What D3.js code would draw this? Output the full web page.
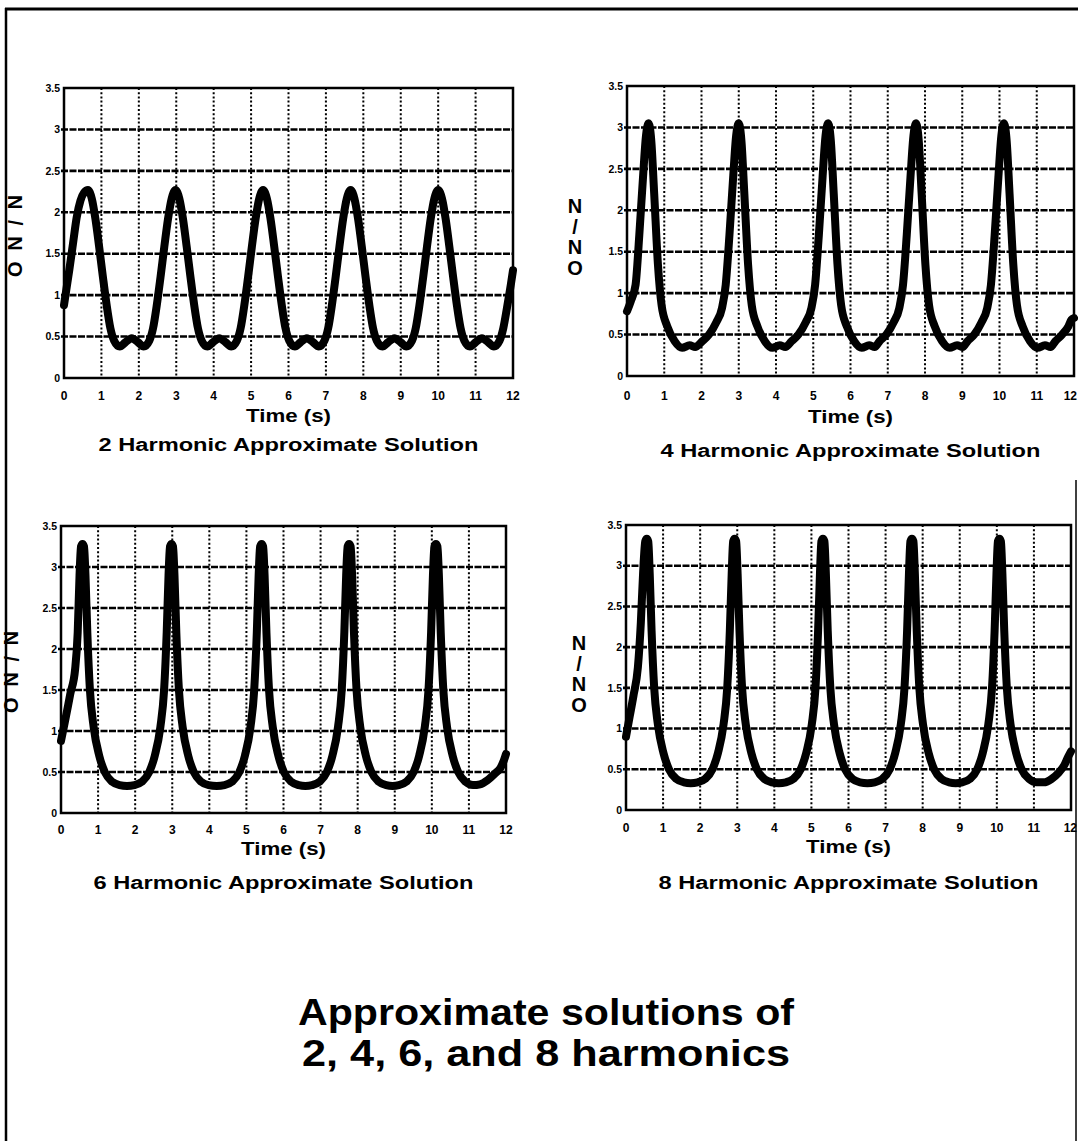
<!DOCTYPE html>
<html>
<head>
<meta charset="utf-8">
<script src="https://cdn.jsdelivr.net/npm/d3@7"></script>
<style>
  body { margin: 0; background: #fff; }
  svg { display: block; }
  text { font-family: "Liberation Sans", Arial, sans-serif; fill: #000; }
</style>
</head>
<body>
<div class="svgcontainer"></div>
<script>
// tick labels
const xTicks = [0, 1, 2, 3, 4, 5, 6, 7, 8, 9, 10, 11, 12];
const yTicks = [0, 0.5, 1, 1.5, 2, 2.5, 3, 3.5];

const subtitles = [
  '2 Harmonic Approximate Solution',
  '4 Harmonic Approximate Solution',
  '6 Harmonic Approximate Solution',
  '8 Harmonic Approximate Solution',
];
const titleLines = ['Approximate solutions of', '2, 4, 6, and 8 harmonics'];

// 2 harmonics
const h2Time = [0, 0.04, 0.14, 0.24, 0.34, 0.44, 0.54, 0.64, 0.74, 0.84, 0.94, 1.04, 1.14, 1.24, 1.34, 1.49, 1.64, 1.81, 1.98, 2.13, 2.28, 2.38, 2.48, 2.58, 2.68, 2.78, 2.88, 2.98,
  3.08, 3.18, 3.28, 3.38, 3.48, 3.58, 3.68, 3.83, 3.98, 4.15, 4.32, 4.47, 4.62, 4.72, 4.82, 4.92, 5.02, 5.12, 5.22, 5.32,
  5.42, 5.52, 5.62, 5.72, 5.82, 5.92, 6.02, 6.17, 6.32, 6.49, 6.66, 6.81, 6.96, 7.06, 7.16, 7.26, 7.36, 7.46, 7.56, 7.66,
  7.76, 7.86, 7.96, 8.06, 8.16, 8.26, 8.36, 8.51, 8.66, 8.83, 9.0, 9.15, 9.3, 9.4, 9.5, 9.6, 9.7, 9.8, 9.9, 10.0,
  10.1, 10.2, 10.3, 10.4, 10.5, 10.6, 10.7, 10.85, 11.0, 11.17, 11.34, 11.49, 11.64, 11.74, 11.84, 11.94, 12.0];
const h2Value = [0.88, 1.0, 1.3, 1.62, 1.94, 2.14, 2.24, 2.27, 2.17, 1.92, 1.58, 1.22, 0.88, 0.6, 0.45, 0.38, 0.43, 0.48, 0.43, 0.38, 0.45, 0.6, 0.88, 1.22, 1.58, 1.92, 2.17, 2.27,
  2.17, 1.92, 1.58, 1.22, 0.88, 0.6, 0.45, 0.38, 0.43, 0.48, 0.43, 0.38, 0.45, 0.6, 0.88, 1.22, 1.58, 1.92, 2.17, 2.27,
  2.17, 1.92, 1.58, 1.22, 0.88, 0.6, 0.45, 0.38, 0.43, 0.48, 0.43, 0.38, 0.45, 0.6, 0.88, 1.22, 1.58, 1.92, 2.17, 2.27,
  2.17, 1.92, 1.58, 1.22, 0.88, 0.6, 0.45, 0.38, 0.43, 0.48, 0.43, 0.38, 0.45, 0.6, 0.88, 1.22, 1.58, 1.92, 2.17, 2.27,
  2.17, 1.92, 1.58, 1.22, 0.88, 0.6, 0.45, 0.38, 0.43, 0.48, 0.43, 0.38, 0.45, 0.6, 0.85, 1.12, 1.3];

// 4 harmonics
const h4Time = [0, 0.1, 0.23, 0.33, 0.43, 0.51, 0.58, 0.65, 0.73, 0.83, 0.93, 1.08, 1.28, 1.48, 1.68, 1.83, 2.02, 2.2, 2.4, 2.55, 2.65, 2.75, 2.85, 2.93, 3.0,
  3.07, 3.15, 3.25, 3.35, 3.5, 3.7, 3.9, 4.1, 4.25, 4.42, 4.6, 4.8, 4.95, 5.05, 5.15, 5.25, 5.33, 5.4,
  5.47, 5.55, 5.65, 5.75, 5.9, 6.1, 6.3, 6.5, 6.65, 6.78, 6.96, 7.16, 7.31, 7.41, 7.51, 7.61, 7.69, 7.76,
  7.83, 7.91, 8.01, 8.11, 8.26, 8.46, 8.66, 8.86, 9.01, 9.14, 9.32, 9.52, 9.67, 9.77, 9.87, 9.97, 10.05, 10.12,
  10.19, 10.27, 10.37, 10.47, 10.62, 10.82, 11.02, 11.22, 11.37, 11.5, 11.68, 11.85, 11.93, 12.0];
const h4Value = [0.78, 0.9, 1.1, 1.7, 2.4, 2.9, 3.05, 2.85, 2.2, 1.35, 0.85, 0.6, 0.42, 0.34, 0.37, 0.35, 0.42, 0.5, 0.65, 0.82, 1.1, 1.7, 2.4, 2.9, 3.05,
  2.85, 2.2, 1.35, 0.85, 0.6, 0.42, 0.34, 0.37, 0.35, 0.42, 0.5, 0.65, 0.82, 1.1, 1.7, 2.4, 2.9, 3.05,
  2.85, 2.2, 1.35, 0.85, 0.6, 0.42, 0.34, 0.37, 0.35, 0.42, 0.5, 0.65, 0.82, 1.1, 1.7, 2.4, 2.9, 3.05,
  2.85, 2.2, 1.35, 0.85, 0.6, 0.42, 0.34, 0.37, 0.35, 0.42, 0.5, 0.65, 0.82, 1.1, 1.7, 2.4, 2.9, 3.05,
  2.85, 2.2, 1.35, 0.85, 0.6, 0.42, 0.34, 0.37, 0.35, 0.42, 0.5, 0.6, 0.68, 0.7];

// 6 harmonics
const h6Time = [0, 0.1, 0.25, 0.38, 0.45, 0.5, 0.54, 0.58, 0.62, 0.66, 0.71, 0.78, 0.88, 1.03, 1.18, 1.38, 1.58, 1.78, 1.98, 2.18, 2.38, 2.53, 2.68, 2.78, 2.85, 2.9, 2.94, 2.98,
  3.02, 3.06, 3.11, 3.18, 3.28, 3.43, 3.58, 3.78, 3.98, 4.2, 4.41, 4.61, 4.81, 4.96, 5.11, 5.21, 5.28, 5.33, 5.37, 5.41,
  5.45, 5.49, 5.54, 5.61, 5.71, 5.86, 6.01, 6.21, 6.41, 6.59, 6.77, 6.97, 7.17, 7.32, 7.47, 7.57, 7.64, 7.69, 7.73, 7.77,
  7.81, 7.85, 7.9, 7.97, 8.07, 8.22, 8.37, 8.57, 8.77, 8.94, 9.11, 9.31, 9.51, 9.66, 9.81, 9.91, 9.98, 10.03, 10.07, 10.11,
  10.15, 10.19, 10.24, 10.31, 10.41, 10.56, 10.71, 10.91, 11.11, 11.3, 11.5, 11.7, 11.85, 11.95, 12.0];
const h6Value = [0.88, 1.1, 1.45, 1.75, 2.2, 2.9, 3.25, 3.28, 3.25, 2.9, 2.2, 1.5, 1.05, 0.7, 0.5, 0.38, 0.34, 0.33, 0.34, 0.38, 0.5, 0.7, 1.05, 1.5, 2.2, 2.9, 3.25, 3.28,
  3.25, 2.9, 2.2, 1.5, 1.05, 0.7, 0.5, 0.38, 0.34, 0.33, 0.34, 0.38, 0.5, 0.7, 1.05, 1.5, 2.2, 2.9, 3.25, 3.28,
  3.25, 2.9, 2.2, 1.5, 1.05, 0.7, 0.5, 0.38, 0.34, 0.33, 0.34, 0.38, 0.5, 0.7, 1.05, 1.5, 2.2, 2.9, 3.25, 3.28,
  3.25, 2.9, 2.2, 1.5, 1.05, 0.7, 0.5, 0.38, 0.34, 0.33, 0.34, 0.38, 0.5, 0.7, 1.05, 1.5, 2.2, 2.9, 3.25, 3.28,
  3.25, 2.9, 2.2, 1.5, 1.05, 0.7, 0.5, 0.38, 0.34, 0.35, 0.4, 0.48, 0.55, 0.65, 0.72];

// 8 harmonics
const h8Time = [0, 0.1, 0.2, 0.32, 0.4, 0.46, 0.52, 0.56, 0.6, 0.64, 0.69, 0.76, 0.86, 1.01, 1.16, 1.36, 1.56, 1.745, 1.93, 2.13, 2.33, 2.48, 2.63, 2.73, 2.8, 2.85, 2.89, 2.93,
  2.97, 3.01, 3.06, 3.13, 3.23, 3.38, 3.53, 3.73, 3.93, 4.12, 4.31, 4.51, 4.71, 4.86, 5.01, 5.11, 5.18, 5.23, 5.27, 5.31,
  5.35, 5.39, 5.44, 5.51, 5.61, 5.76, 5.91, 6.11, 6.31, 6.51, 6.71, 6.91, 7.11, 7.26, 7.41, 7.51, 7.58, 7.63, 7.67, 7.71,
  7.75, 7.79, 7.84, 7.91, 8.01, 8.16, 8.31, 8.51, 8.71, 8.89, 9.07, 9.27, 9.47, 9.62, 9.77, 9.87, 9.94, 9.99, 10.03, 10.07,
  10.11, 10.15, 10.2, 10.27, 10.37, 10.52, 10.67, 10.87, 11.07, 11.27, 11.47, 11.67, 11.82, 11.92, 12.0];
const h8Value = [0.9, 1.15, 1.4, 1.75, 2.3, 2.9, 3.3, 3.33, 3.3, 2.9, 2.2, 1.5, 1.05, 0.7, 0.5, 0.38, 0.34, 0.33, 0.34, 0.38, 0.5, 0.7, 1.05, 1.5, 2.2, 2.9, 3.3, 3.33,
  3.3, 2.9, 2.2, 1.5, 1.05, 0.7, 0.5, 0.38, 0.34, 0.33, 0.34, 0.38, 0.5, 0.7, 1.05, 1.5, 2.2, 2.9, 3.3, 3.33,
  3.3, 2.9, 2.2, 1.5, 1.05, 0.7, 0.5, 0.38, 0.34, 0.33, 0.34, 0.38, 0.5, 0.7, 1.05, 1.5, 2.2, 2.9, 3.3, 3.33,
  3.3, 2.9, 2.2, 1.5, 1.05, 0.7, 0.5, 0.38, 0.34, 0.33, 0.34, 0.38, 0.5, 0.7, 1.05, 1.5, 2.2, 2.9, 3.3, 3.33,
  3.3, 2.9, 2.2, 1.5, 1.05, 0.7, 0.5, 0.38, 0.34, 0.34, 0.38, 0.46, 0.55, 0.65, 0.72];

// layout of the four plots
const panels = [
  {time: h2Time, value: h2Value, title: subtitles[0], left: 64, right: 513, top: 88, bottom: 378,
    tickY: 400, timeY: 422, subY: 451, rotLabel: true, labelX: 15, labelY: 236},
  {time: h4Time, value: h4Value, title: subtitles[1], left: 627, right: 1074, top: 86, bottom: 376,
    tickY: 400, timeY: 423, subY: 457, rotLabel: false, labelX: 575, labelY: 213},
  {time: h6Time, value: h6Value, title: subtitles[2], left: 61, right: 506, top: 526, bottom: 813,
    tickY: 834, timeY: 855, subY: 889, rotLabel: true, labelX: 11, labelY: 672},
  {time: h8Time, value: h8Value, title: subtitles[3], left: 626, right: 1071, top: 525, bottom: 810,
    tickY: 832, timeY: 853, subY: 889, rotLabel: false, labelX: 579, labelY: 650},
];

const svg = d3
  .select('.svgcontainer')
  .append('svg')
  .attr('width', 1078)
  .attr('height', 1141);

svg.append('rect').attr('width', 1078).attr('height', 1141).attr('fill', '#fff');

// page frame
svg.append('line').attr('x1', 5).attr('x2', 1078).attr('y1', 9).attr('y2', 9)
  .attr('stroke', '#000').attr('stroke-width', 3);
svg.append('line').attr('x1', 6).attr('x2', 6).attr('y1', 8).attr('y2', 1141)
  .attr('stroke', '#000').attr('stroke-width', 2.5);
svg.append('line').attr('x1', 1076).attr('x2', 1076).attr('y1', 480).attr('y2', 1141)
  .attr('stroke', '#000').attr('stroke-width', 1.5);

panels.forEach(function(p) {
  const x = d3.scaleLinear().domain([0, 12]).range([p.left, p.right]);
  const y = d3.scaleLinear().domain([0, 3.5]).range([p.bottom, p.top]);
  const g = svg.append('g');

  // grid
  g.append('g')
    .selectAll('line')
    .data(xTicks.slice(1, -1))
    .enter()
    .append('line')
    .attr('x1', d => x(d))
    .attr('x2', d => x(d))
    .attr('y1', p.top)
    .attr('y2', p.bottom)
    .attr('stroke', '#000')
    .attr('stroke-width', 2)
    .attr('stroke-dasharray', '2,2.2');

  g.append('g')
    .selectAll('line')
    .data(yTicks.slice(1, -1))
    .enter()
    .append('line')
    .attr('x1', p.left - 3)
    .attr('x2', p.right)
    .attr('y1', d => y(d))
    .attr('y2', d => y(d))
    .attr('stroke', '#000')
    .attr('stroke-width', 2.6)
    .attr('stroke-dasharray', '7,1.5');

  // curve
  const pts = p.time.map((t, i) => [t, p.value[i]]);
  const line = d3
    .line()
    .x(d => x(d[0]))
    .y(d => y(d[1]))
    .curve(d3.curveMonotoneX);
  g.append('path')
    .datum(pts)
    .attr('d', line)
    .attr('fill', 'none')
    .attr('stroke', '#000')
    .attr('stroke-width', 8)
    .attr('stroke-linejoin', 'round')
    .attr('stroke-linecap', 'round');

  // frame
  g.append('rect')
    .attr('x', p.left)
    .attr('y', p.top)
    .attr('width', p.right - p.left)
    .attr('height', p.bottom - p.top)
    .attr('fill', 'none')
    .attr('stroke', '#000')
    .attr('stroke-width', 2.5);

  // tick labels
  g.append('g')
    .selectAll('text')
    .data(xTicks)
    .enter()
    .append('text')
    .attr('x', d => (x(d) > 1066 ? 1077 : x(d)))
    .attr('y', p.tickY)
    .attr('text-anchor', d => (x(d) > 1066 ? 'end' : 'middle'))
    .style('font-size', '12px')
    .style('font-weight', 'bold')
    .text(d => d);

  g.append('g')
    .selectAll('text')
    .data(yTicks)
    .enter()
    .append('text')
    .attr('x', p.left - 4)
    .attr('y', d => y(d))
    .attr('dy', '0.35em')
    .attr('text-anchor', 'end')
    .style('font-size', '10.5px')
    .style('font-weight', 'bold')
    .text(d => d);

  // axis labels
  const mid = (p.left + p.right) / 2;
  g.append('text')
    .attr('x', mid)
    .attr('y', p.timeY)
    .attr('text-anchor', 'middle')
    .attr('textLength', 85)
    .attr('lengthAdjust', 'spacingAndGlyphs')
    .style('font-size', '18px')
    .style('font-weight', 'bold')
    .text('Time (s)');

  g.append('text')
    .attr('x', mid)
    .attr('y', p.subY)
    .attr('text-anchor', 'middle')
    .attr('textLength', 380)
    .attr('lengthAdjust', 'spacingAndGlyphs')
    .style('font-size', '18px')
    .style('font-weight', 'bold')
    .text(p.title);

  if (p.rotLabel) {
    g.append('text')
      .attr('transform', `translate(${p.labelX},${p.labelY}) rotate(90)`)
      .attr('text-anchor', 'middle')
      .attr('dy', '0.35em')
      .attr('textLength', 82)
      .attr('lengthAdjust', 'spacing')
      .style('font-size', '20px')
      .style('font-weight', 'bold')
      .text('N/NO');
  } else {
    g.append('g')
      .selectAll('text')
      .data(['N', '/', 'N', 'O'])
      .enter()
      .append('text')
      .attr('x', p.labelX)
      .attr('y', (d, i) => p.labelY + i * 20.5)
      .attr('text-anchor', 'middle')
      .style('font-size', '20px')
      .style('font-weight', 'bold')
      .text(d => d);
  }
});

// main title
svg.append('g')
  .selectAll('text')
  .data(titleLines)
  .enter()
  .append('text')
  .attr('x', 546)
  .attr('y', (d, i) => 1025 + i * 41)
  .attr('text-anchor', 'middle')
  .attr('textLength', (d, i) => (i === 0 ? 496 : 488))
  .attr('lengthAdjust', 'spacingAndGlyphs')
  .style('font-size', '37px')
  .style('font-weight', 'bold')
  .text(d => d);
</script>
</body>
</html>
